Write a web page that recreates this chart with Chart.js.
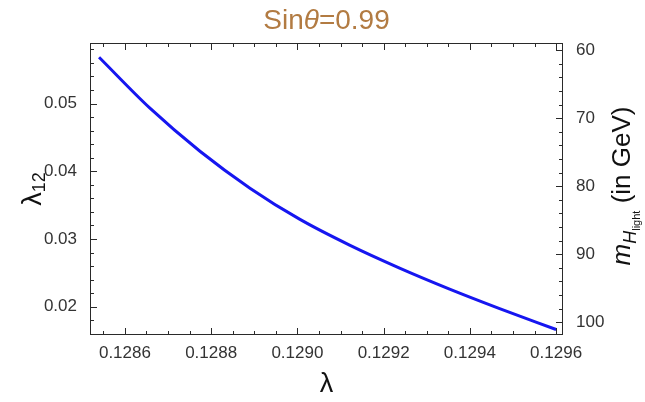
<!DOCTYPE html>
<html>
<head>
<meta charset="utf-8">
<script src="https://cdn.jsdelivr.net/npm/chart.js@4.4.1/dist/chart.umd.min.js"></script>
<style>
  html, body { margin: 0; padding: 0; background: #fff; }
  #wrap { width: 645px; height: 402px; }
</style>
</head>
<body>
<div id="wrap"><canvas id="chart" width="645" height="402"></canvas></div>
<script>
// curve
const lambdaVals   = [0.128540, 0.128658, 0.128774, 0.128890, 0.129005,
                      0.129121, 0.129237, 0.129353, 0.129469, 0.129600];
const lambda12Vals = [0.05683, 0.04931, 0.04296, 0.03751, 0.03293,
                      0.02910, 0.02571, 0.02261, 0.01973, 0.01664];

// tick labels
const xTicks     = [0.1286, 0.1288, 0.1290, 0.1292, 0.1294, 0.1296];
const leftTicks  = [0.02, 0.03, 0.04, 0.05];
const rightTicks = [60, 70, 80, 90, 100];

const FONT = "'Liberation Sans', Arial, sans-serif";
const frameColor = '#2a2a2a';

// minor tick positions between majors
function minorValues(majors, perGap, min, max) {
    const step = (majors[1] - majors[0]) / (perGap + 1);
    const out = [];
    const n = (majors.length - 1) * (perGap + 1);
    for (let k = -30; k <= n + 30; k++) {
        if (k % (perGap + 1) === 0) continue;
        const v = majors[0] + k * step;
        if (v > min && v < max) out.push(v);
    }
    return out;
}

// Mathematica-like frame: inward ticks on all four sides + axis titles
const frameTicks = {
    id: 'frameTicks',
    afterDraw(chart) {
        const ctx = chart.ctx;
        const a = chart.chartArea;
        const sx = chart.scales.x, sy = chart.scales.y, sy2 = chart.scales.y2;
        const major = 7, minor = 4;
        ctx.save();
        ctx.fillStyle = frameColor;
        const L = Math.round(a.left), R = Math.round(a.right) - 1;
        const T = Math.round(a.top), B = Math.round(a.bottom) - 1;
        // frame
        ctx.fillRect(L, T, R - L + 1, 1);
        ctx.fillRect(L, B, R - L + 1, 1);
        ctx.fillRect(L, T, 1, B - T + 1);
        ctx.fillRect(R, T, 1, B - T + 1);
        // x ticks, bottom and top
        const xTick = (v, len) => {
            const p = Math.round(sx.getPixelForValue(v));
            ctx.fillRect(p, B - len + 1, 1, len);
            ctx.fillRect(p, T, 1, len);
        };
        xTicks.forEach(v => xTick(v, major));
        minorValues(xTicks, 3, sx.min, sx.max).forEach(v => xTick(v, minor));
        // left ticks
        const lTick = (v, len) => {
            const p = Math.round(sy.getPixelForValue(v));
            ctx.fillRect(L, p, len, 1);
        };
        leftTicks.forEach(v => lTick(v, major));
        minorValues(leftTicks, 4, sy.min, sy.max).forEach(v => lTick(v, minor));
        // right ticks
        const rTick = (v, len) => {
            const p = Math.round(sy2.getPixelForValue(v));
            ctx.fillRect(R - len + 1, p, len, 1);
        };
        rightTicks.forEach(v => rTick(v, major));
        minorValues(rightTicks, 4, sy2.min, sy2.max).forEach(v => rTick(v, minor));

        ctx.fillStyle = '#111';
        ctx.textBaseline = 'alphabetic';

        // bottom title
        ctx.font = '27px ' + FONT;
        ctx.textAlign = 'center';
        ctx.fillText('λ', (a.left + a.right) / 2, 392);
        ctx.textAlign = 'left';

        // left title: lambda_12, rotated
        ctx.save();
        ctx.translate(41, 189);
        ctx.rotate(-Math.PI / 2);
        ctx.font = '27px ' + FONT;
        const wl = ctx.measureText('λ').width;
        ctx.font = '18px ' + FONT;
        const w12 = ctx.measureText('12').width;
        const x0 = -(wl + w12) / 2;
        ctx.font = '27px ' + FONT;
        ctx.fillText('λ', x0, 0);
        ctx.font = '18px ' + FONT;
        ctx.fillText('12', x0 + wl, 4);
        ctx.restore();

        // right title: m_{H_light} (in GeV), rotated
        ctx.save();
        ctx.translate(630, 186);
        ctx.rotate(-Math.PI / 2);
        const parts = [
            { t: 'm', f: 'italic 26px ' + FONT, dy: 0 },
            { t: 'H', f: 'italic 18px ' + FONT, dy: 6 },
            { t: 'light', f: '11px ' + FONT, dy: 10 },
            { t: ' (in GeV)', f: '26px ' + FONT, dy: 0 }
        ];
        let total = 0;
        parts.forEach(p => { ctx.font = p.f; p.w = ctx.measureText(p.t).width; total += p.w; });
        let cx = -total / 2;
        parts.forEach(p => { ctx.font = p.f; ctx.fillText(p.t, cx, p.dy); cx += p.w; });
        ctx.restore();

        // top title: Sin theta = 0.99
        ctx.fillStyle = '#b27b42';
        const tparts = [
            { t: 'Sin', f: '28px ' + FONT },
            { t: 'θ', f: 'italic 28px ' + FONT },
            { t: '=0.99', f: '28px ' + FONT }
        ];
        let tw = 0;
        tparts.forEach(p => { ctx.font = p.f; p.w = ctx.measureText(p.t).width; tw += p.w; });
        let tx = (a.left + a.right) / 2 - tw / 2;
        tparts.forEach(p => { ctx.font = p.f; ctx.fillText(p.t, tx, 29); tx += p.w; });

        ctx.restore();
    }
};

const points = lambdaVals.map((v, i) => ({ x: v, y: lambda12Vals[i] }));

new Chart(document.getElementById('chart'), {
    type: 'line',
    data: {
        datasets: [{
            data: points,
            borderColor: 'rgb(22, 22, 240)',
            borderWidth: 3,
            pointRadius: 0,
            fill: false,
            cubicInterpolationMode: 'monotone'
        }]
    },
    options: {
        responsive: false,
        animation: false,
        devicePixelRatio: 1,
        layout: { padding: { top: 43, left: 0, right: 0, bottom: 0 } },
        plugins: { legend: { display: false }, tooltip: { enabled: false } },
        scales: {
            x: {
                type: 'linear',
                min: 0.128519, max: 0.129616,
                grid: { display: false }, border: { display: false },
                afterFit: s => { s.height = 67; },
                afterBuildTicks: s => { s.ticks = xTicks.map(v => ({ value: v })); },
                ticks: { color: '#333', padding: 0, font: { family: FONT, size: 17 },
                         callback: v => Number(v).toFixed(4) }
            },
            y: {
                position: 'left',
                min: 0.015826, max: 0.05894,
                grid: { display: false }, border: { display: false },
                afterFit: s => { s.width = 90; },
                afterBuildTicks: s => { s.ticks = leftTicks.map(v => ({ value: v })); },
                ticks: { color: '#333', padding: 5, font: { family: FONT, size: 17 },
                         callback: v => Number(v).toFixed(2) }
            },
            y2: {
                position: 'right',
                reverse: true,
                min: 58.93, max: 101.88,
                grid: { display: false }, border: { display: false },
                afterFit: s => { s.width = 82; },
                afterBuildTicks: s => { s.ticks = rightTicks.map(v => ({ value: v })); },
                ticks: { color: '#333', padding: 5, font: { family: FONT, size: 17 },
                         callback: v => String(v) }
            }
        }
    },
    plugins: [frameTicks]
});
</script>
</body>
</html>
